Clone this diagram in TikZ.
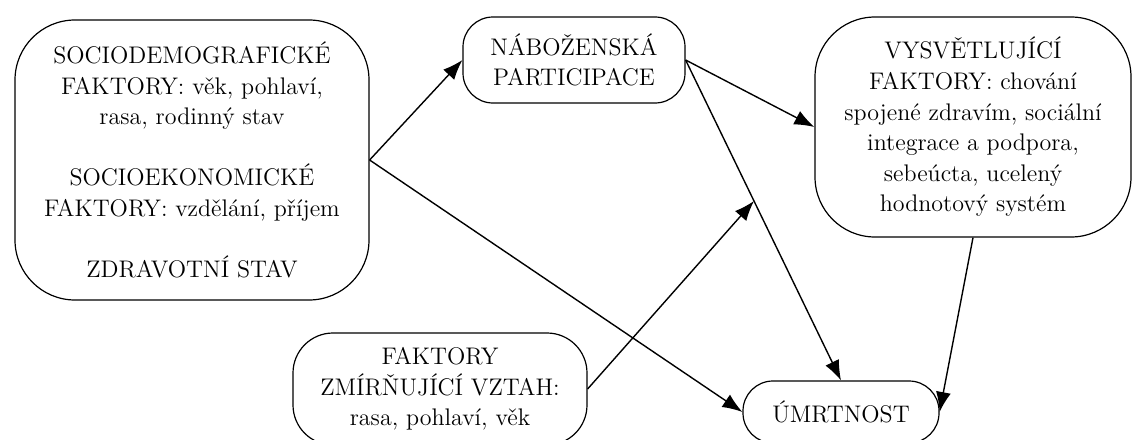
\documentclass[tikz,border=0pt]{standalone}
\usepackage{fontspec}
\usetikzlibrary{arrows.meta, positioning}

\tikzset{
  box/.style={draw, rounded corners=#1, align=center, inner sep=0pt, line width=.6pt},
  box/.default=15pt,
  link/.style={-{Latex[length=10pt,width=7.5pt]}, line width=.7pt}
}

\begin{document}
\begin{tikzpicture}[x=.5pt,y=-.5pt,font=\fontsize{12}{15.3}\selectfont]
 \useasboundingbox (0,0) rectangle (1134,439);
 \node[box=30pt, minimum width=177pt, minimum height=140pt] (socio) at (192,160)
   {SOCIODEMOGRAFICKÉ\\ FAKTORY: věk, pohlaví,\\ rasa, rodinný stav\\[15.3pt]
    SOCIOEKONOMICKÉ\\ FAKTORY: vzdělání, příjem\\[15.3pt] ZDRAVOTNÍ STAV};
 \node[box=15pt, minimum width=111pt, minimum height=43pt] (relig) at (574,60)
   {NÁBOŽENSKÁ\\ PARTICIPACE};
 \node[box=30pt, minimum width=158pt, minimum height=110pt] (expl) at (973,127)
   {VYSVĚTLUJÍCÍ\\ FAKTORY: chování\\ spojené zdravím, sociální\\ integrace a podpora,\\
    sebeúcta, ucelený\\ hodnotový systém};
 \node[box=20pt, minimum width=147pt, minimum height=56pt] (moder) at (440,389)
   {FAKTORY\\ ZMÍRŇUJÍCÍ VZTAH:\\ rasa, pohlaví, věk};
 \node[box=15pt, minimum width=98pt, minimum height=31pt] (mort) at (841,412)
   {ÚMRTNOST};
 \draw[link] (socio.east) -- (relig.west);
 \draw[link] (socio.east) -- (mort.west);
 \draw[link] (relig.east) -- (expl.west);
 \draw[link] (relig.east) -- coordinate[pos=.44] (mid) (mort.north);
 \draw[link] (moder.east) -- (mid);
 \draw[link] (expl.south) -- (mort.east);
\end{tikzpicture}
\end{document}
